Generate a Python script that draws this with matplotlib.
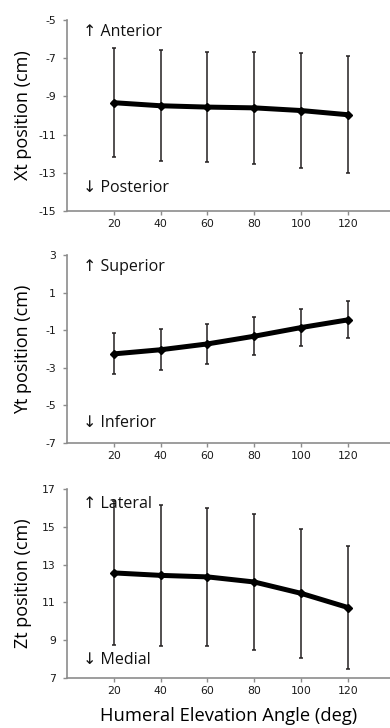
import matplotlib
matplotlib.use("Agg")
import matplotlib.pyplot as plt

plt.rcParams["axes.unicode_minus"] = False

# humeral elevation angles (deg)
angles = [20, 40, 60, 80, 100, 120]

# mean positions and SD (cm)
xt_mean = [-9.33, -9.49, -9.56, -9.60, -9.74, -9.96]
xt_sd = [2.84, 2.90, 2.90, 2.95, 3.02, 3.05]

yt_mean = [-2.26, -2.04, -1.73, -1.32, -0.86, -0.45]
yt_sd = [1.09, 1.10, 1.06, 1.02, 1.00, 0.99]

zt_mean = [12.56, 12.43, 12.35, 12.08, 11.48, 10.73]
zt_sd = [3.80, 3.73, 3.67, 3.58, 3.43, 3.27]

ylabels = ["Xt position (cm)", "Yt position (cm)", "Zt position (cm)"]
yranges = [(-15, -5), (-7, 3), (7, 17)]
up_labels = ["\u2191 Anterior", "\u2191 Superior", "\u2191 Lateral"]
down_labels = ["\u2193 Posterior", "\u2193 Inferior", "\u2193 Medial"]

FONT = ["Open Sans", "DejaVu Sans"]

W, H = 390, 728
fig = plt.figure(figsize=(W / 100, H / 100), dpi=100)

# axes boxes in pixels: (top, bottom), plus where the direction notes sit
boxes = [(20, 211), (255, 443), (489, 678)]
note_y = [(0.935, 0.12), (0.935, 0.106), (0.922, 0.095)]
left_px = 67
series = [(xt_mean, xt_sd), (yt_mean, yt_sd), (zt_mean, zt_sd)]

for i, ((top, bot), (m, sd)) in enumerate(zip(boxes, series)):
    ax = fig.add_axes([left_px / W, 1 - bot / H, (W - left_px) / W, (bot - top) / H])
    ax.errorbar(angles, m, yerr=sd, fmt="none", ecolor="#231f20",
                elinewidth=1.1, capsize=1.7, capthick=1.1, zorder=2)
    ax.plot(angles, m, color="black", lw=3.6, marker="D", ms=4.5,
            solid_capstyle="round", zorder=3)

    lo, hi = yranges[i]
    ax.set_ylim(lo, hi)
    ax.set_yticks(range(lo, hi + 1, 2))
    ax.set_xlim(0, 138)
    ax.set_xticks(angles)

    for s in ["top", "right"]:
        ax.spines[s].set_visible(False)
    for s in ["left", "bottom"]:
        ax.spines[s].set_color("#8c8c8c")
        ax.spines[s].set_linewidth(1.2)
    ax.tick_params(axis="both", colors="#8c8c8c", length=3, width=1,
                   labelsize=7.8, labelcolor="#1a1a1a")
    ax.tick_params(axis="y", pad=5)
    ax.tick_params(axis="x", pad=3)

    ax.set_ylabel(ylabels[i], fontsize=13, family=FONT)
    ax.yaxis.set_label_coords(-0.108, 0.5)
    ax.text(0.05, note_y[i][0], up_labels[i], transform=ax.transAxes,
            fontsize=11.5, family=FONT, va="center", ha="left", color="#111111")
    ax.text(0.05, note_y[i][1], down_labels[i], transform=ax.transAxes,
            fontsize=11.5, family=FONT, va="center", ha="left", color="#111111")

    if i == 2:
        ax.set_xlabel("Humeral Elevation Angle (deg)", fontsize=13.2,
                      family=FONT, labelpad=8)

fig.savefig("out.png", dpi=100)
